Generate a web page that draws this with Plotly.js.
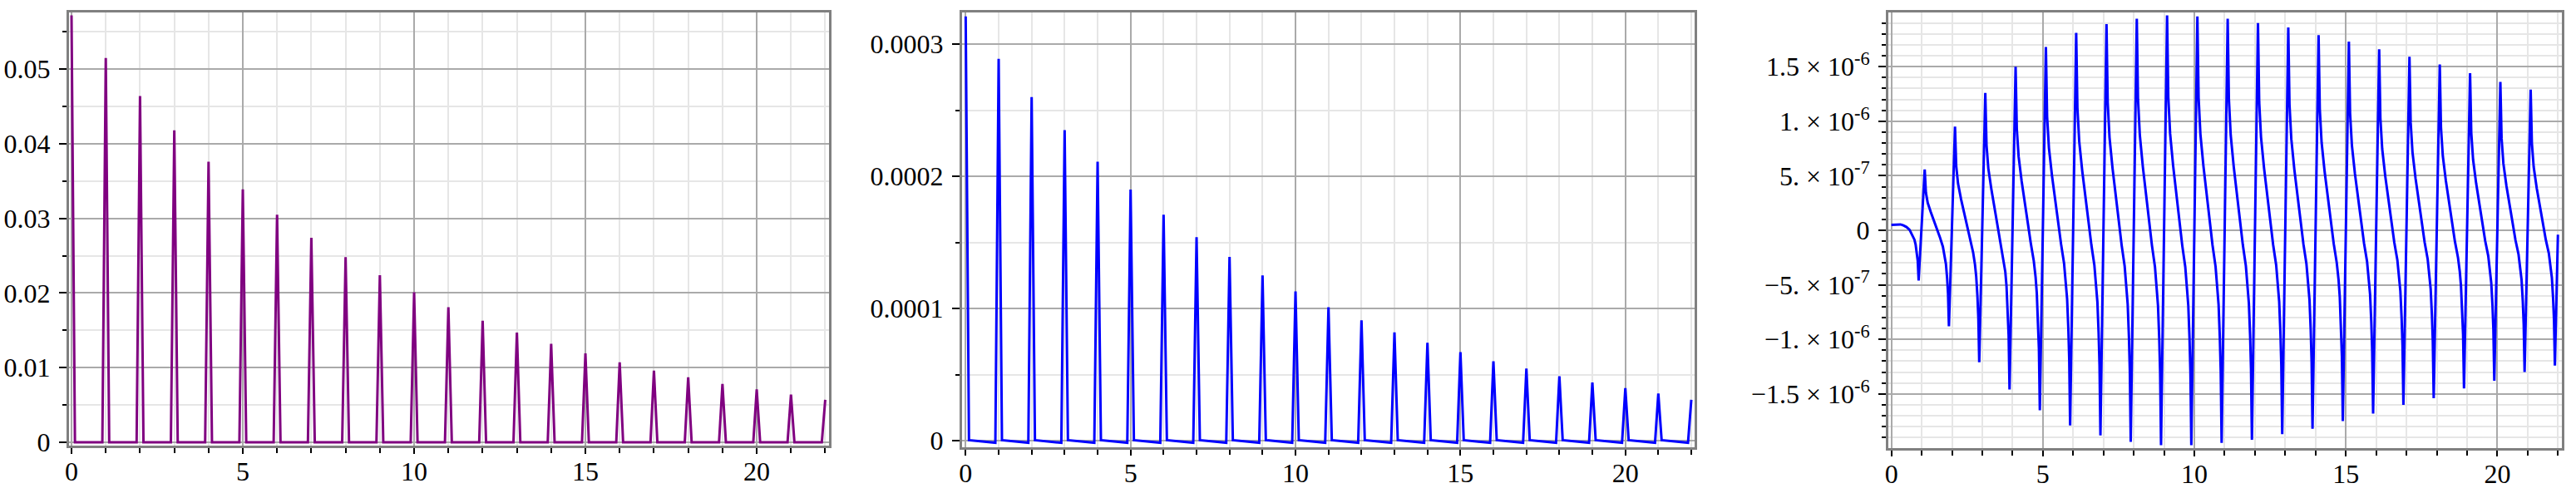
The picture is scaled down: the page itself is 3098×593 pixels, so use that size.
<!DOCTYPE html>
<html>
<head>
<meta charset="utf-8">
<script src="https://cdn.plot.ly/plotly-3.0.1.min.js"></script>
<style>
html,body{margin:0;padding:0;background:#ffffff;}
#chart{width:3098px;height:593px;}
</style>
</head>
<body>
<div id="chart"></div>
<script>
// ---------- data ----------
const spikeX = [0,1,2,3,4,5,6,7,8,9,10,11,12,13,14,15,16,17,18,19,20,21,22];

// panel 1 (purple): spike heights at each integer x
const p1Peaks = [0.0572,0.0515,0.0464,0.0418,0.0376,0.0339,0.0305,0.0274,0.0248,0.0224,0.0201,0.0181,0.0163,0.0147,0.0132,0.0119,0.0107,0.0096,0.0087,0.0078,0.0071,0.0064,0.0057];

// panel 2 (blue): spike heights at each integer x, and the small baseline drift between spikes
const p2Peaks = [0.000321,0.000289,0.000260,0.000235,0.000211,0.000190,0.000171,0.000154,0.000139,0.000125,0.000113,0.000101,0.000091,0.000082,0.000074,0.000067,0.000060,0.0000545,0.0000488,0.000044,0.0000398,0.0000356,0.000031];
const p2BaseAfter = [0.0000004];
const p2BaseBefore = [-0.0000016];

// panel 3 (blue): values (in units of 1e-6) sampled inside each period n (n = 0..21)
const p3Periods = [0,1,2,3,4,5,6,7,8,9,10,11,12,13,14,15,16,17,18,19,20,21];
const p3Offsets = [0.1,0.14,0.2,0.3,0.4,0.5,0.6,0.7,0.76,0.8,0.84,0.87,0.9];
const p3At010 = [0.052,0.557,0.95,1.26,1.50,1.68,1.81,1.89,1.94,1.97,1.96,1.94,1.90,1.86,1.79,1.73,1.66,1.59,1.52,1.44,1.36,1.29];
const p3At014 = [0.054,0.345,0.589,0.781,0.93,1.042,1.122,1.172,1.203,1.221,1.215,1.203,1.178,1.153,1.110,1.073,1.029,0.986,0.942,0.893,0.843,0.80];
const p3At020 = [0.055,0.251,0.428,0.567,0.675,0.756,0.815,0.851,0.873,0.887,0.882,0.873,0.855,0.837,0.806,0.779,0.747,0.716,0.684,0.648,0.612,0.581];
const p3At030 = [0.054,0.167,0.285,0.378,0.45,0.504,0.543,0.567,0.582,0.591,0.588,0.582,0.57,0.558,0.537,0.519,0.498,0.477,0.456,0.432,0.408,0.387];
const p3At040 = [0.045,0.095,0.162,0.214,0.255,0.286,0.308,0.321,0.330,0.335,0.333,0.330,0.323,0.316,0.304,0.294,0.282,0.270,0.258,0.245,0.231,0.219];
const p3At050 = [0.03,0.022,0.038,0.050,0.06,0.067,0.072,0.076,0.078,0.079,0.078,0.078,0.076,0.074,0.072,0.069,0.066,0.064,0.061,0.058,0.054,0.052];
const p3At060 = [0.005,-0.062,-0.085,-0.102,-0.116,-0.125,-0.132,-0.136,-0.138,-0.138,-0.137,-0.134,-0.131,-0.127,-0.123,-0.118,-0.112,-0.108,-0.102,-0.097,-0.091,-0.087];
const p3At070 = [-0.045,-0.150,-0.206,-0.248,-0.281,-0.304,-0.320,-0.330,-0.335,-0.335,-0.332,-0.326,-0.318,-0.309,-0.298,-0.286,-0.272,-0.262,-0.247,-0.235,-0.221,-0.211];
const p3At076 = [-0.085,-0.229,-0.315,-0.380,-0.429,-0.465,-0.489,-0.504,-0.512,-0.512,-0.507,-0.499,-0.486,-0.473,-0.455,-0.437,-0.416,-0.400,-0.377,-0.359,-0.338,-0.322];
const p3At080 = [-0.13,-0.308,-0.424,-0.511,-0.578,-0.627,-0.658,-0.679,-0.690,-0.690,-0.683,-0.672,-0.655,-0.637,-0.613,-0.588,-0.56,-0.539,-0.508,-0.483,-0.455,-0.434];
const p3At084 = [-0.2,-0.44,-0.605,-0.73,-0.825,-0.895,-0.94,-0.97,-0.985,-0.985,-0.975,-0.96,-0.935,-0.91,-0.875,-0.84,-0.80,-0.77,-0.725,-0.69,-0.65,-0.62];
const p3At087 = [-0.28,-0.581,-0.799,-0.964,-1.089,-1.181,-1.241,-1.280,-1.300,-1.300,-1.287,-1.267,-1.234,-1.201,-1.155,-1.109,-1.056,-1.016,-0.957,-0.911,-0.858,-0.818];
const p3At090 = [-0.46,-0.88,-1.21,-1.46,-1.65,-1.79,-1.88,-1.94,-1.97,-1.97,-1.95,-1.92,-1.87,-1.82,-1.75,-1.68,-1.60,-1.54,-1.45,-1.38,-1.30,-1.24];
const p3StartX = [0];   const p3StartY = [0.05];
const p3EndX = [22];    const p3EndY = [-0.04];
const p3Unit = 1e-6;

// tick labels
const xTickVals = [0,5,10,15,20];
const xTickText = ['0','5','10','15','20'];
const p1TickVals = [0,0.01,0.02,0.03,0.04,0.05];
const p1TickText = ['0','0.01','0.02','0.03','0.04','0.05'];
const p2TickVals = [0,0.0001,0.0002,0.0003];
const p2TickText = ['0','0.0001','0.0002','0.0003'];
const p3TickVals = [-1.5e-6,-1e-6,-5e-7,0,5e-7,1e-6,1.5e-6];
const p3TickText = ['\u22121.5 \u00d7 10<sup>-6</sup>','\u22121. \u00d7 10<sup>-6</sup>','\u22125. \u00d7 10<sup>-7</sup>','0','5. \u00d7 10<sup>-7</sup>','1. \u00d7 10<sup>-6</sup>','1.5 \u00d7 10<sup>-6</sup>'];

// ---------- build traces ----------
const halfW = 0.1;
function spikeSeries(peaks, before, after) {
  const xs = [], ys = [];
  const last = spikeX.length - 1;
  spikeX.forEach((n, i) => {
    if (i > 0) { xs.push(n - halfW); ys.push(before); }
    xs.push(n); ys.push(peaks[i]);
    if (i < last) { xs.push(n + halfW); ys.push(after); }
  });
  return {xs, ys};
}
const s1 = spikeSeries(p1Peaks, 0, 0);
const s2 = spikeSeries(p2Peaks, p2BaseBefore[0], p2BaseAfter[0]);

const p3Cols = [p3At010,p3At014,p3At020,p3At030,p3At040,p3At050,p3At060,p3At070,p3At076,p3At080,p3At084,p3At087,p3At090];
const x3 = [p3StartX[0]], y3 = [p3StartY[0] * p3Unit];
p3Periods.forEach((n, i) => {
  p3Offsets.forEach((o, k) => {
    x3.push(n + o);
    y3.push(p3Cols[k][i] * p3Unit);
  });
});
x3.push(p3EndX[0]); y3.push(p3EndY[0] * p3Unit);

const traces = [
  {x: s1.xs, y: s1.ys, xaxis:'x', yaxis:'y', type:'scatter', mode:'lines',
   line:{color:'#800080', width:3}, hoverinfo:'skip'},
  {x: s2.xs, y: s2.ys, xaxis:'x2', yaxis:'y2', type:'scatter', mode:'lines',
   line:{color:'#0000ff', width:3}, hoverinfo:'skip'},
  {x: x3, y: y3, xaxis:'x3', yaxis:'y3', type:'scatter', mode:'lines',
   line:{color:'#0000ff', width:3}, hoverinfo:'skip'}
];

// ---------- axes ----------
const tickFont = {family:'Liberation Serif, serif', size:32, color:'#000000'};
function baseAxis() {
  return {
    showline:true, linecolor:'#808080', linewidth:3, mirror:true,
    ticks:'outside', tickwidth:2, tickcolor:'#000000',
    showgrid:true, gridcolor:'#aaaaaa', gridwidth:2, zeroline:false,
    tickfont: tickFont, fixedrange:true, tickmode:'array'
  };
}
function xAx(domain, range, anchor) {
  return Object.assign(baseAxis(), {
    domain, range, anchor, tickvals:xTickVals, ticktext:xTickText, ticklen:7,
    ticklabelstandoff: -6,
    minor:{tickmode:'linear', tick0:0, dtick:1, ticks:'outside', ticklen:6, tickwidth:2,
           tickcolor:'#000000', showgrid:true, gridcolor:'#e6e6e6', gridwidth:2}
  });
}
function yAx(domain, range, anchor, vals, text, mdt) {
  return Object.assign(baseAxis(), {
    domain, range, anchor, tickvals:vals, ticktext:text, ticklen:9,
    ticklabelstandoff: 4,
    minor:{tickmode:'linear', tick0:0, dtick:mdt, ticks:'outside', ticklen:5, tickwidth:2,
           tickcolor:'#000000', showgrid:true, gridcolor:'#e6e6e6', gridwidth:2}
  });
}

const W = 3098, H = 593;
const layout = {
  width: W, height: H,
  margin:{l:0, r:0, t:0, b:0, pad:0},
  paper_bgcolor:'#ffffff', plot_bgcolor:'#ffffff',
  showlegend:false,
  font:{family:'Liberation Serif, serif', size:32, color:'#000000'},
  xaxis:  xAx([83/W, 997/W],   [-0.073, 22.11], 'y'),
  yaxis:  yAx([(H-536)/H, (H-15)/H], [-0.00045, 0.0576], 'x', p1TickVals, p1TickText, 0.005),
  xaxis2: xAx([1157/W, 2038/W], [-0.11, 22.1], 'y2'),
  yaxis2: yAx([(H-538)/H, (H-15)/H], [-0.000005, 0.000324], 'x2', p2TickVals, p2TickText, 0.00005),
  xaxis3: xAx([2271/W, 3081/W], [-0.1, 22.13], 'y3'),
  yaxis3: yAx([(H-539)/H, (H-15)/H], [-1.997e-6, 1.997e-6], 'x3', p3TickVals, p3TickText, 1e-7)
};

Plotly.newPlot('chart', traces, layout, {staticPlot:true, displayModeBar:false});
</script>
</body>
</html>
